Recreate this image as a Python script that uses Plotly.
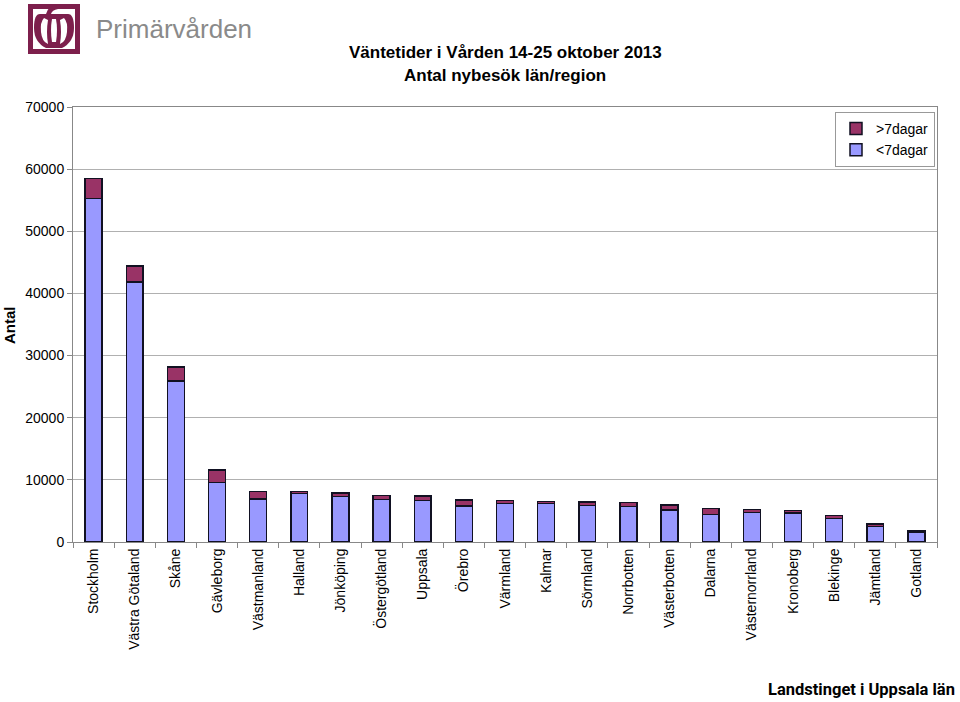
import re
import plotly.graph_objects as go

regions = ["Stockholm", "Västra Götaland", "Skåne", "Gävleborg", "Västmanland", "Halland",
           "Jönköping", "Östergötland", "Uppsala", "Örebro", "Värmland", "Kalmar", "Sörmland",
           "Norrbotten", "Västerbotten", "Dalarna", "Västernorrland", "Kronoberg", "Blekinge",
           "Jämtland", "Gotland"]
under7 = [55300, 41800, 25900, 9600, 6920, 7770, 7300, 6870, 6650, 5790, 6170, 6230, 5840,
          5680, 5150, 4400, 4770, 4670, 3810, 2470, 1500]
over7 = [3200, 2650, 2250, 1950, 1240, 330, 590, 580, 750, 970, 540, 320, 600,
         650, 800, 960, 430, 430, 420, 430, 270]
y_ticks = [0, 10000, 20000, 30000, 40000, 50000, 60000, 70000]

BLUE = "#9999FF"
RED = "#993366"
EDGE = "#111122"
FONT = "Liberation Sans, Arial, sans-serif"

W, H = 960, 702
L, T = 73, 107
R = W - 937
B = H - 542
pw, ph = W - L - R, H - T - B

def px_x(px):
    return (px - L) / pw

def px_y(py):
    return (H - B - py) / ph

fig = go.Figure()
fig.add_trace(go.Bar(x=regions, y=under7, name="<7dagar",
                     marker=dict(color=BLUE, line=dict(color=EDGE, width=1.5))))
fig.add_trace(go.Bar(x=regions, y=over7, name=">7dagar",
                     marker=dict(color=RED, line=dict(color=EDGE, width=1.5))))

fig.update_layout(
    width=W, height=H,
    barmode="stack", bargap=0.59,
    margin=dict(l=L, r=R, t=T, b=B, autoexpand=False),
    paper_bgcolor="white", plot_bgcolor="white",
    font=dict(family=FONT, size=14, color="black"),
    legend=dict(x=px_x(935), xanchor="right", y=px_y(112), yanchor="top", traceorder="reversed",
                bgcolor="white", bordercolor="#999999", borderwidth=1,
                font=dict(family=FONT, size=14), tracegroupgap=0),
    showlegend=True,
)
fig.update_xaxes(showline=True, linecolor="#888888", linewidth=1, mirror=True, automargin=False,
                 ticks="outside", tickson="boundaries", ticklen=5, tickcolor="#888888",
                 tickangle=-90, tickfont=dict(family=FONT, size=14), showgrid=False)
fig.update_yaxes(range=[0, 70000], tickvals=y_ticks, ticktext=[str(v) for v in y_ticks],
                 showline=True, linecolor="#888888", linewidth=1, mirror=True, automargin=False,
                 ticks="outside", ticklen=5, tickcolor="#888888",
                 showgrid=True, gridcolor="#b0b0b0", gridwidth=1,
                 tickfont=dict(family=FONT, size=14), zeroline=False)

# Title lines
fig.add_annotation(text="<b>Väntetider i Vården 14-25 oktober 2013</b>", xref="paper", yref="paper",
                   x=px_x(505), y=px_y(53), xanchor="center", yanchor="middle", showarrow=False,
                   font=dict(family=FONT, size=17, color="black"))
fig.add_annotation(text="<b>Antal nybesök län/region</b>", xref="paper", yref="paper",
                   x=px_x(505), y=px_y(75), xanchor="center", yanchor="middle", showarrow=False,
                   font=dict(family=FONT, size=17, color="black"))
# Y axis title
fig.add_annotation(text="<b>Antal</b>", xref="paper", yref="paper", textangle=-90,
                   x=px_x(9), y=px_y(325), xanchor="center", yanchor="middle", showarrow=False,
                   font=dict(family=FONT, size=15, color="black"))

# Logo (approximate), given in pixel coords then converted
M = "#7d1f4c"
logo = [
    ("rect", (28, 4, 80, 54), M),
    ("rect", (33, 9, 75, 49), "white"),
    ("path", "M 40 14 Q 34 14 34 28 Q 34 42 46 48 L 62 48 Q 74 42 74 28 Q 74 14 68 14 Z", M),
    ("path", "M 44 18 Q 40 22 41 32 Q 42 42 48 44 Q 46 32 48 20 Z", "white"),
    ("path", "M 64 18 Q 68 22 67 32 Q 66 42 60 44 Q 62 32 60 20 Z", "white"),
    ("path", "M 52 19 Q 50 30 52 42 L 56 42 Q 58 30 56 19 Z", "white"),
    ("path", "M 46 14 Q 48 6 56 5 L 58 9 Q 52 10 51 14 Z", M),
]
for kind, geom, col in logo:
    if kind == "rect":
        x0, y0, x1, y1 = geom
        fig.add_shape(type="rect", xref="paper", yref="paper",
                      x0=px_x(x0), y0=px_y(y0), x1=px_x(x1), y1=px_y(y1),
                      fillcolor=col, line=dict(width=0))
    else:
        res, idx = [], 0
        for t in geom.split():
            if re.match(r"^[A-Za-z]$", t):
                res.append(t)
                idx = 0
            else:
                v = float(t)
                res.append(f"{px_x(v):.5f}" if idx % 2 == 0 else f"{px_y(v):.5f}")
                idx += 1
        fig.add_shape(type="path", xref="paper", yref="paper", path=" ".join(res),
                      fillcolor=col, line=dict(width=0))

fig.add_annotation(text="Primärvården", xref="paper", yref="paper",
                   x=px_x(94), y=px_y(29), xanchor="left", yanchor="middle", showarrow=False,
                   font=dict(family="Liberation Sans, Arial, sans-serif", size=26, color="#8a8a8a"))
fig.add_annotation(text="<b>Landstinget i Uppsala län</b>", xref="paper", yref="paper",
                   x=px_x(957), y=px_y(689), xanchor="right", yanchor="middle", showarrow=False,
                   font=dict(family="Roboto, Liberation Sans, sans-serif", size=16.5, color="black"))

fig.write_html("out.html", config={"displayModeBar": False},
               post_script="document.body.style.margin='0';document.body.style.padding='0';")
